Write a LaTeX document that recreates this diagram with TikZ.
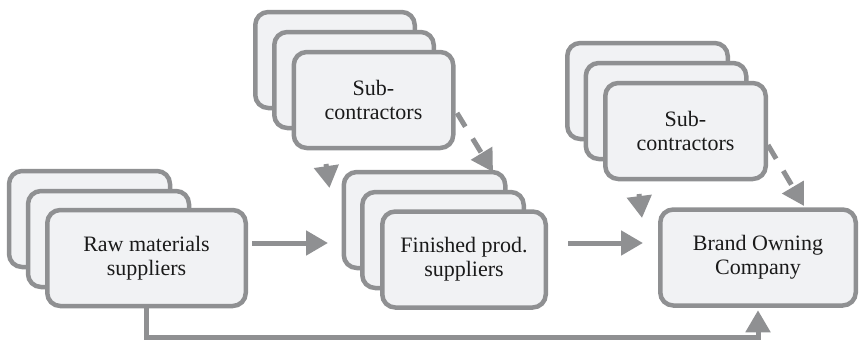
\documentclass[tikz,border=0pt]{standalone}
\usepackage{fontspec}
\setmainfont{Liberation Serif}
\usetikzlibrary{arrows.meta}
\definecolor{edgegray}{HTML}{8F9092}
\definecolor{boxfill}{HTML}{F1F2F4}
\definecolor{inkc}{HTML}{1A1A1A}
\tikzset{
  card/.style={draw=edgegray, fill=boxfill, line width=4.5pt, rounded corners=13pt,
    inner sep=0pt, minimum height=96pt, align=center, text=inkc,
    font=\fontsize{22}{24}\selectfont},
  flow/.style={draw=edgegray, line width=5pt,
    -{Triangle[length=22pt,width=24pt]}},
  dflow/.style={flow, dash pattern=on 16pt off 14pt},
}
\begin{document}
\begin{tikzpicture}[x=1pt,y=-1pt]
\useasboundingbox (0,0) rectangle (860,340);

% raw materials stack
\node[card, minimum width=161pt] (rawb) at (89.5,219) {};
\node[card, minimum width=161pt] (rawm) at (108.5,239) {};
\node[card, minimum width=198.5pt] (raw) at (146.5,258) {Raw materials\\suppliers};

% first sub-contractor stack
\node[card, minimum width=159.5pt] (subAb) at (335,60) {};
\node[card, minimum width=159.5pt] (subAm) at (354,80) {};
\node[card, minimum width=159.5pt] (subA) at (373.5,100) {Sub-\\contractors};

% finished product stack
\node[card, minimum width=161.5pt] (finb) at (424.5,220) {};
\node[card, minimum width=161.5pt] (finm) at (443,240) {};
\node[card, minimum width=163.5pt] (fin) at (464,259.5) {Finished prod.\\suppliers};

% second sub-contractor stack
\node[card, minimum width=160.5pt] (subBb) at (647.5,91) {};
\node[card, minimum width=160.5pt] (subBm) at (666,111) {};
\node[card, minimum width=160.5pt] (subB) at (685.5,131) {Sub-\\contractors};

% brand owner
\node[card, minimum width=195.5pt] (brand) at (758,257.5) {Brand Owning\\Company};

% connector end points
\coordinate (rawout) at (252,243);
\coordinate (finin) at (328,243);
\coordinate (finout) at (568,243);
\coordinate (brandin) at (643,243);
\coordinate (subAout) at (457,113);
\coordinate (fintop) at (493,172);
\coordinate (subBout) at (768,145);
\coordinate (brandtop) at (804,206);
\coordinate (headAs) at (326,164);
\coordinate (headAe) at (329.5,188);
\coordinate (headBs) at (639,194);
\coordinate (headBe) at (642,218);
\coordinate (bottomrun) at (146.5,337.5);

% main flow
\draw[flow] (rawout) -- (finin);
\draw[flow] (finout) -- (brandin);
\draw[flow, shorten >=2.5pt] (raw.south) -- (bottomrun) -| (brand.south);

% sub-contracting links
\draw[dflow] (subAout) -- (fintop);
\draw[dflow] (subBout) -- (brandtop);
\draw[flow] (headAs) -- (headAe);
\draw[flow] (headBs) -- (headBe);
\end{tikzpicture}
\end{document}
